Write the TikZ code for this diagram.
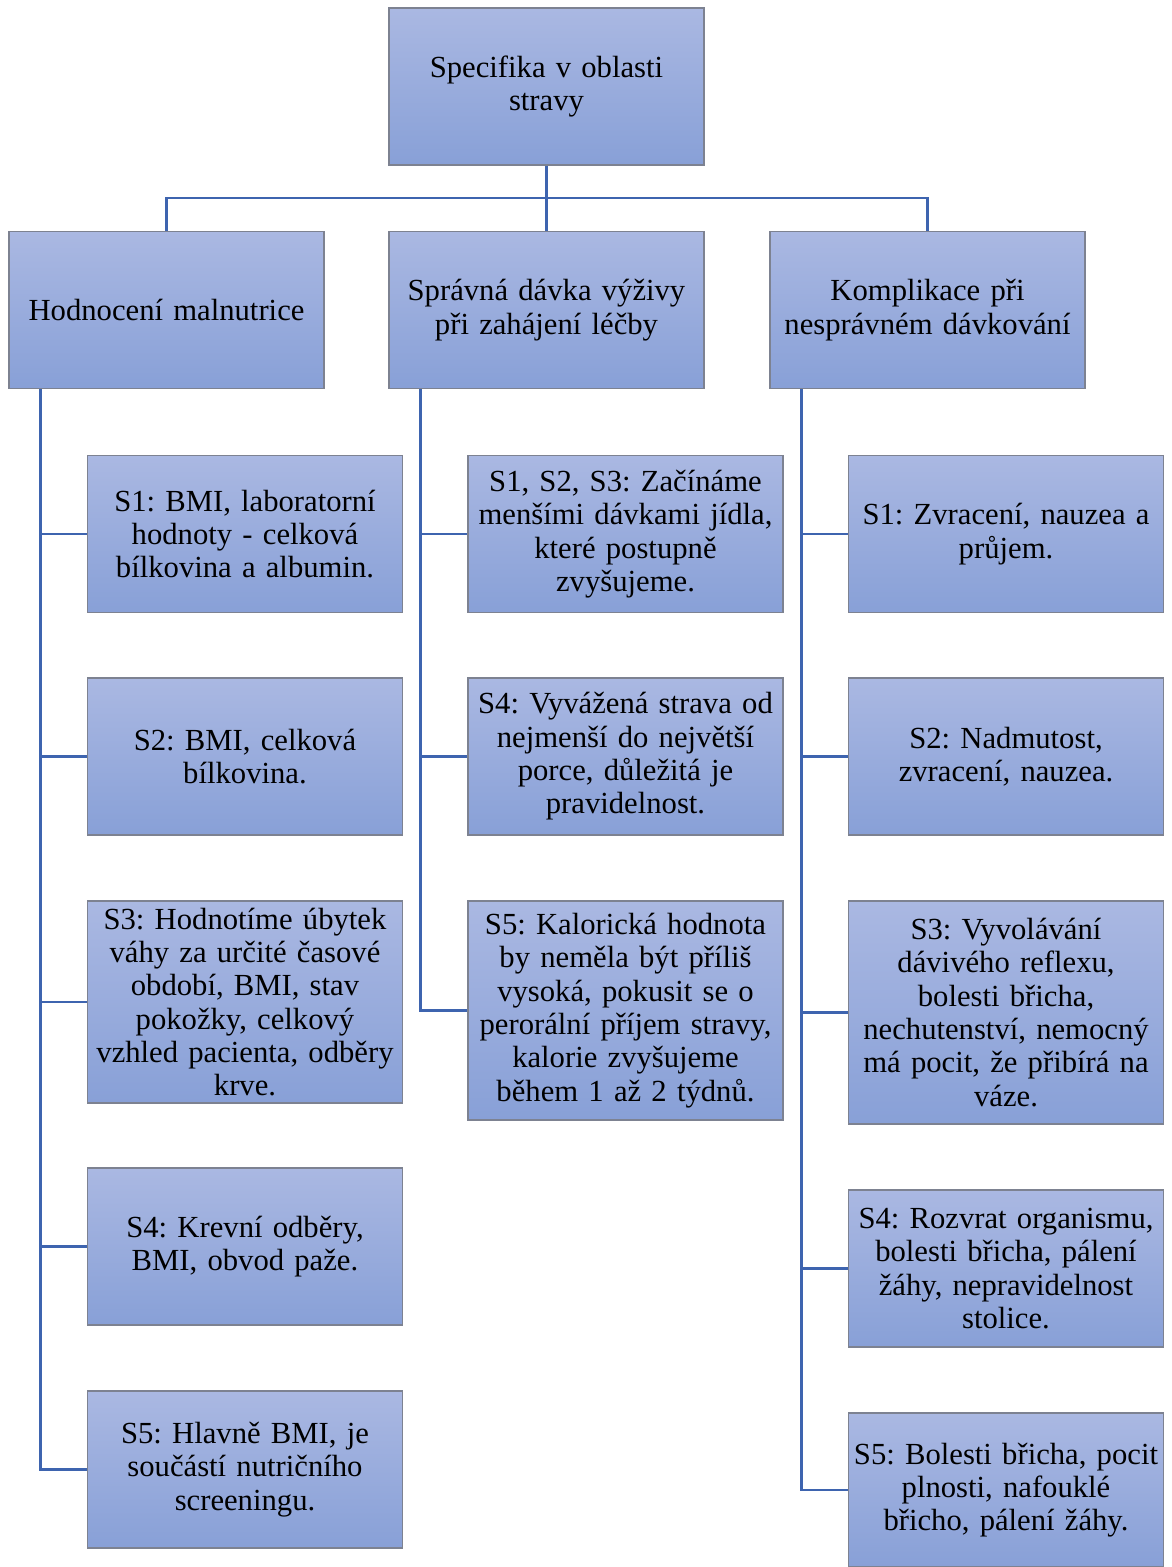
\documentclass[tikz,border=0pt]{standalone}
\usepackage{fontspec}
\setmainfont{Liberation Serif}
\usetikzlibrary{calc}
\definecolor{boxtop}{RGB}{170,184,226}
\definecolor{boxbot}{RGB}{136,160,215}
\definecolor{boxline}{RGB}{125,130,145}
\definecolor{conn}{RGB}{62,100,175}
\tikzset{
  box/.style={draw=boxline, line width=0.8pt, top color=boxtop, bottom color=boxbot,
    minimum width=236.25pt, minimum height=117.75pt, inner sep=1pt,
    text width=234pt, align=center, font=\frenchspacing\fontsize{23}{25}\selectfont},
  conline/.style={draw=conn, line width=2pt}
}
\begin{document}
\begin{tikzpicture}[x=0.75pt,y=-0.75pt]
\useasboundingbox (0,0) rectangle (1171,1567);
\node[box] (T) at (546.5,86.5) {Specifika v oblasti\\stravy};
\node[box] (L0) at (166.5,310) {Hodnocení malnutrice};
\node[box] (M0) at (546.5,310) {Správná dávka výživy\\při zahájení léčby};
\node[box] (R0) at (927.5,310) {Komplikace při\\nesprávném dávkování};
% left
\node[box] (L1) at (245,534) {S1: BMI, laboratorní\\hodnoty - celková\\bílkovina a albumin.};
\node[box] (L2) at (245,756.5) {S2: BMI, celková\\bílkovina.};
\node[box, minimum height=151.5pt] (L3) at (245,1002) {S3: Hodnotíme úbytek\\váhy za určité časové\\období, BMI, stav\\pokožky, celkový\\vzhled pacienta, odběry\\krve.};
\node[box] (L4) at (245,1246.5) {S4: Krevní odběry,\\BMI, obvod paže.};
\node[box] (L5) at (245,1469.5) {S5: Hlavně BMI, je\\součástí nutričního\\screeningu.};
% middle
\node[box] (M1) at (625.5,534) {S1, S2, S3: Začínáme\\menšími dávkami jídla,\\které postupně\\zvyšujeme.};
\node[box] (M2) at (625.5,756.5) {S4: Vyvážená strava od\\nejmenší do největší\\porce, důležitá je\\pravidelnost.};
\node[box, minimum height=164.25pt] (M3) at (625.5,1010.5) {S5: Kalorická hodnota\\by neměla být příliš\\vysoká, pokusit se o\\perorální příjem stravy,\\kalorie zvyšujeme\\během 1 až 2 týdnů.};
% right
\node[box] (R1) at (1006,534) {S1: Zvracení, nauzea a\\průjem.};
\node[box] (R2) at (1006,756.5) {S2: Nadmutost,\\zvracení, nauzea.};
\node[box, minimum height=167.25pt] (R3) at (1006,1012.5) {S3: Vyvolávání\\dávivého reflexu,\\bolesti břicha,\\nechutenství, nemocný\\má pocit, že přibírá na\\váze.};
\node[box] (R4) at (1006,1268.5) {S4: Rozvrat organismu,\\bolesti břicha, pálení\\žáhy, nepravidelnost\\stolice.};
\node[box, minimum height=115.5pt] (R5) at (1006,1490) {S5: Bolesti břicha, pocit\\plnosti, nafouklé\\břicho, pálení žáhy.};
% connectors
\coordinate (bus) at (546.5,198);
\draw[conline] (T.south) -- (bus);
\draw[conline] (L0.north) |- (bus) -| (R0.north);
\draw[conline] (bus) -- (M0.north);
\coordinate (sL) at ([xshift=24pt]L0.south west);
\coordinate (sM) at ([xshift=24pt]M0.south west);
\coordinate (sR) at ([xshift=24pt]R0.south west);
\foreach \c in {L1,L2,L3,L4,L5}{\draw[conline] (sL) |- (\c.west);}
\foreach \c in {M1,M2,M3}{\draw[conline] (sM) |- (\c.west);}
\foreach \c in {R1,R2,R3,R4,R5}{\draw[conline] (sR) |- (\c.west);}
\end{tikzpicture}
\end{document}
